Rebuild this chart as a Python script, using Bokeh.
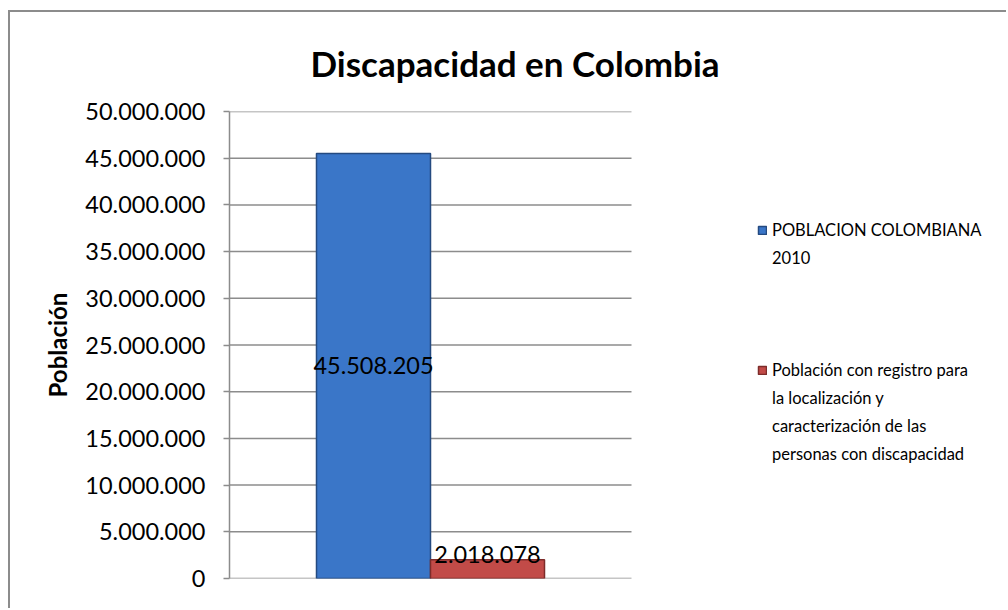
from bokeh.plotting import figure
from bokeh.models import FixedTicker, Legend, LegendItem, Range1d, ColumnDataSource
from bokeh.core.properties import value
from bokeh.embed import file_html
from bokeh.resources import INLINE

# ---- data ----
categories = ["2010"]
series_lines = [
    ["POBLACION COLOMBIANA", "2010"],
    ["Población con registro para", "la localización y",
     "caracterización de las", "personas con discapacidad"],
]
series_values = [45508205, 2018078]
value_labels = ["45.508.205", "2.018.078"]
tick_values = [0, 5000000, 10000000, 15000000, 20000000, 25000000,
               30000000, 35000000, 40000000, 45000000, 50000000]
tick_labels = ["0", "5.000.000", "10.000.000", "15.000.000", "20.000.000",
               "25.000.000", "30.000.000", "35.000.000", "40.000.000",
               "45.000.000", "50.000.000"]

FONT = "Lato"
GRID = "#8c8c8c"

# layout: the category band occupies [0, 1]; the frame continues to the right
# (to host the legend) so the x range extends beyond the band.
W, H = 998, 598
LEFT, TOP, BOTTOM = 219, 97, 32
BAND_PX = 402
x_end = (W - LEFT) / BAND_PX

p = figure(x_range=Range1d(0, x_end), y_range=Range1d(0, 50000000),
           width=W, height=H, output_backend="svg", toolbar_location=None,
           min_border_left=LEFT, min_border_right=0, min_border_top=TOP,
           min_border_bottom=BOTTOM, outline_line_color=None, margin=(10, 0, 0, 8))
p.styles = {"border-left": "2px solid #8c8c8c", "border-top": "2px solid #8c8c8c"}

# title
p.title.text = "Discapacidad en Colombia"
p.title.align = "left"
p.title.offset = 81
p.title.standoff = 55
p.title.text_font = FONT
p.title.text_font_size = "35px"
p.title.text_font_style = "bold"
p.title.text_color = "black"

# horizontal gridlines across the category band, from the tick values
p.segment(x0=[0] * len(tick_values), x1=[1] * len(tick_values),
          y0=tick_values, y1=tick_values, line_color=GRID, line_width=1.5)

# bars (category index 0 -> band centre 0.5, clustered)
bw = 0.2836
cat_x = [i + 0.5 for i in range(len(categories))]
src_a = ColumnDataSource(dict(x=[c - bw / 2 for c in cat_x], val=[series_values[0]],
                              mid=[series_values[0] / 2], lab=[value_labels[0]]))
src_b = ColumnDataSource(dict(x=[c + bw / 2 for c in cat_x], val=[series_values[1]],
                              lab=[value_labels[1]]))
r1 = p.vbar(x="x", top="val", width=bw, source=src_a,
            fill_color="#3a76c8", line_color="#244a80", line_width=1.5)
r2 = p.vbar(x="x", top="val", width=bw, source=src_b,
            fill_color="#c24b48", line_color="#7d2c2a", line_width=1.5)
# invisible renderer used for the wrapped legend lines
r0 = p.vbar(x="x", top="val", width=bw, source=ColumnDataSource(dict(x=[], val=[])),
            fill_alpha=0, line_alpha=0)

# data labels
p.text(x="x", y="mid", text="lab", source=src_a,
       text_align="center", text_baseline="middle", text_font=value(FONT),
       text_font_size="23.5px", text_color="black")
p.text(x="x", y="val", text="lab", source=src_b,
       text_align="center", text_baseline="bottom", text_font=value(FONT),
       text_font_size="23.5px", text_color="black", y_offset=3)

# axes
p.xaxis.visible = False
p.xgrid.visible = False
p.ygrid.visible = False
p.yaxis.ticker = FixedTicker(ticks=tick_values)
p.yaxis.major_label_overrides = {v: l for v, l in zip(tick_values, tick_labels)}
p.yaxis.major_label_text_font = FONT
p.yaxis.major_label_text_font_size = "23.5px"
p.yaxis.major_label_text_color = "black"
p.yaxis.major_label_standoff = 18
p.yaxis.major_tick_out = 6
p.yaxis.major_tick_in = 0
p.yaxis.minor_tick_line_color = None
p.yaxis.axis_line_color = GRID
p.yaxis.axis_line_width = 1.5
p.yaxis.major_tick_line_color = GRID
p.yaxis.major_tick_line_width = 1.5
p.yaxis.axis_label = "Población"
p.yaxis.axis_label_text_font = FONT
p.yaxis.axis_label_text_font_size = "24px"
p.yaxis.axis_label_text_font_style = "bold"
p.yaxis.axis_label_text_color = "black"
p.yaxis.axis_label_standoff = 10

# legend: one item per text line, blank items as gaps
items = []
for renderer, lines in zip([r1, r2], series_lines):
    for i, line in enumerate(lines):
        items.append(LegendItem(label=line, renderers=[renderer if i == 0 else r0]))
    if renderer is r1:
        for _ in range(3):
            items.append(LegendItem(label=" ", renderers=[r0]))

legend = Legend(items=items, location=(528, 110), orientation="vertical")
legend.padding = 0
legend.margin = 0
legend.border_line_color = None
legend.background_fill_alpha = 0
legend.glyph_width = 10
legend.glyph_height = 10
legend.label_standoff = 5
legend.spacing = 0
legend.label_height = 28
legend.label_text_font = FONT
legend.label_text_font_size = "16.5px"
legend.label_text_color = "black"
p.add_layout(legend, "center")

open("out.html", "w").write(file_html(p, INLINE))
